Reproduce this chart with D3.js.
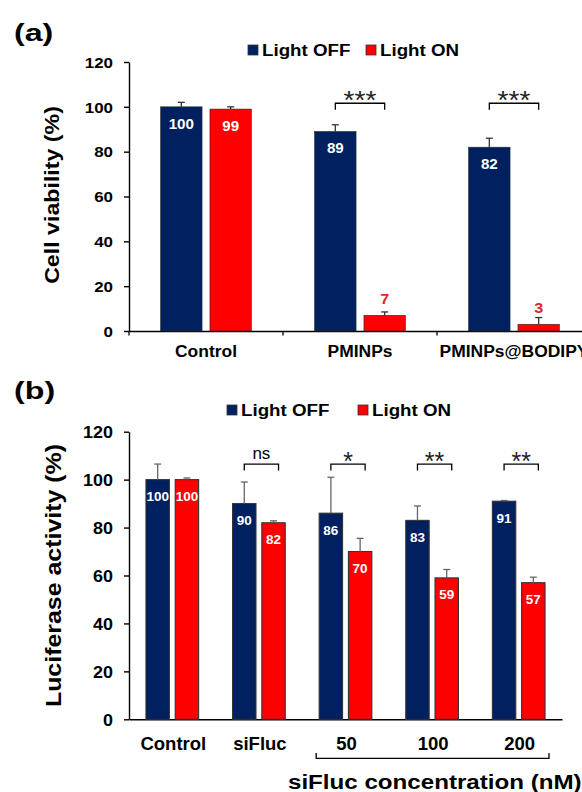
<!DOCTYPE html>
<html>
<head>
<meta charset="utf-8">
<script src="https://cdn.jsdelivr.net/npm/d3@7"></script>
<style>
  body { margin: 0; background: #fff; }
  svg { display: block; }
</style>
</head>
<body>
<svg id="chart" width="582" height="792"></svg>
<script>
// ---- data ----
const series = ['Light OFF', 'Light ON'];
const seriesColors = ['#002060', '#ff0000'];

// panel (a) - cell viability
const catsA = ['Control', 'PMINPs', 'PMINPs@BODIPY'];
const offA = [100, 89, 82];
const offErrA = [2, 3, 4];
const onA = [99, 7, 3];
const onErrA = [1, 1.5, 3];
const sigA = ['', '***', '***'];

// panel (b) - luciferase activity
const catsB = ['Control', 'siFluc', '50', '100', '200'];
const offB = [100, 90, 86, 83, 91];
const offErrB = [6.5, 9, 15, 6, 0.3];
const onB = [100, 82, 70, 59, 57];
const onErrB = [0.7, 0.8, 5.5, 3.5, 2.3];
const sigB = ['', 'ns', '*', '**', '**'];

const yTicks = [0, 20, 40, 60, 80, 100, 120];

const FONT = '"Liberation Sans", Arial, sans-serif';
const svg = d3.select('#chart');
svg.append('rect').attr('width', 582).attr('height', 792).attr('fill', '#fff');

// text helper: glyphs in the figure are a bit wider than Arial, so stretch along the text
function stext(g, x, y, str, size, sx, opt = {}) {
  const rot = opt.rotate ? ' rotate(-90)' : '';
  return g.append('text')
    .attr('transform', `translate(${x},${y})${rot} scale(${sx},1)`)
    .attr('text-anchor', opt.anchor || 'start')
    .attr('font-family', FONT)
    .attr('font-size', size)
    .attr('font-weight', opt.weight || 'bold')
    .attr('fill', opt.fill || '#000')
    .text(str);
}

function styleAxis(g, width) {
  g.select('.domain').attr('stroke', '#000').attr('stroke-width', width);
  g.selectAll('.tick line').attr('stroke', '#000').attr('stroke-width', width);
}

function legend(g, x, y, gap) {
  series.forEach((s, i) => {
    const lx = x + i * gap;
    g.append('rect').attr('x', lx).attr('y', y).attr('width', 10).attr('height', 10)
      .attr('fill', seriesColors[i]).attr('stroke', '#333').attr('stroke-width', 0.8);
    stext(g, lx + 14, y + 11, s, 16.3, 1.15);
  });
}

function panel(cfg) {
  const g = svg.append('g');
  const { x, y, sub } = cfg;

  // panel letter
  stext(g, 14, cfg.letterY, cfg.letter, 23, 1.4);
  legend(g, cfg.legendX, cfg.legendY, cfg.legendGap);

  // y axis
  const ax = g.append('g').attr('transform', `translate(${x.range()[0]},0)`)
    .call(d3.axisLeft(y).tickValues(yTicks).tickSize(5).tickSizeOuter(0));
  styleAxis(ax, 1.4);
  ax.selectAll('.tick text')
    .attr('x', null).attr('dy', null)
    .attr('transform', `translate(-16,${cfg.tickDy}) scale(${cfg.tickSx},1)`)
    .attr('font-family', FONT).attr('font-size', cfg.tickSize)
    .attr('font-weight', 'bold').attr('fill', '#000');

  // y title
  stext(g, cfg.titleX, (y.range()[0] + y.range()[1]) / 2 + cfg.titleShift, cfg.yTitle,
    cfg.titleSize, 1.16, { rotate: true, anchor: 'middle' });

  // x axis
  const bx = g.append('g').attr('transform', `translate(0,${y(0)})`)
    .call(d3.axisBottom(x).tickSize(0).tickSizeOuter(0));
  styleAxis(bx, 1.4);
  bx.selectAll('.tick text')
    .attr('y', null).attr('dy', null)
    .attr('transform', `translate(${cfg.catDx},${cfg.catDy}) scale(${cfg.catSx},1)`)
    .attr('font-family', FONT).attr('font-size', cfg.catSize)
    .attr('font-weight', 'bold').attr('fill', '#000');

  // bars
  const rows = [];
  x.domain().forEach((c, i) => {
    series.forEach((s, j) => {
      rows.push({ c, s, j, v: cfg.vals[j][i], e: cfg.errs[j][i] });
    });
  });

  const bars = g.append('g');
  bars.selectAll('rect').data(rows).enter().append('rect')
    .attr('x', d => x(d.c) + sub(d.s))
    .attr('y', d => y(d.v))
    .attr('width', sub.bandwidth())
    .attr('height', d => y(0) - y(d.v))
    .attr('fill', d => seriesColors[d.j])
    .attr('stroke', cfg.barStroke).attr('stroke-width', cfg.barStrokeW);

  // error bars (upper only)
  const eb = g.append('g').attr('stroke', cfg.errColor).attr('stroke-width', 1.3);
  rows.forEach(d => {
    const cx = x(d.c) + sub(d.s) + sub.bandwidth() / 2;
    eb.append('line').attr('x1', cx).attr('x2', cx).attr('y1', y(d.v)).attr('y2', y(d.v + d.e));
    eb.append('line').attr('x1', cx - 3.5).attr('x2', cx + 3.5).attr('y1', y(d.v + d.e)).attr('y2', y(d.v + d.e));
  });

  // value labels
  rows.forEach(d => {
    const cx = x(d.c) + sub(d.s) + sub.bandwidth() / 2;
    if (d.v >= 20) {
      stext(g, cx, y(d.v) + cfg.labelDy, d.v, cfg.labelSize, 1.08, { anchor: 'middle', fill: '#fff' });
    } else {
      stext(g, cx, y(d.v) - 11, d.v, cfg.labelSize + 1, 1.08, { anchor: 'middle', fill: '#d92b2b' });
    }
  });

  // significance brackets
  const br = g.append('g');
  x.domain().forEach((c, i) => {
    const s = cfg.sig[i];
    if (!s) return;
    const x1 = x(c) + sub(series[0]) + sub.bandwidth() / 2;
    const x2 = x(c) + sub(series[1]) + sub.bandwidth() / 2 + cfg.bracketExtra;
    const by = y(cfg.bracketAt);
    br.append('path')
      .attr('d', `M${x1},${by + 6.5}V${by}H${x2}V${by + 6.5}`)
      .attr('fill', 'none').attr('stroke', '#000').attr('stroke-width', 1.3);
    if (s === 'ns') {
      stext(br, (x1 + x2) / 2, by - 5, s, 17, 1.0, { anchor: 'middle', weight: 'normal' });
    } else {
      stext(br, (x1 + x2) / 2, by + cfg.starDy, s, cfg.starSize, cfg.starSx,
        { anchor: 'middle', weight: 'normal', fill: '#222' });
    }
  });
  return g;
}

// ---- panel (a) ----
const xA = d3.scaleBand().domain(catsA).range([129, 591]);
const sA = d3.scaleBand().domain(series).range([0, xA.bandwidth()]).paddingInner(0.16).paddingOuter(0.64);
const yA = d3.scaleLinear().domain([0, 120]).range([331, 62]);

const gA = panel({
  x: xA, y: yA, sub: sA, letter: '(a)', letterY: 40.5,
  legendX: 248, legendY: 45, legendGap: 118,
  tickDy: 5.3, tickSx: 1.13, tickSize: 15,
  yTitle: 'Cell viability (%)', titleX: 59, titleShift: -1.5, titleSize: 20,
  catDx: 0, catDy: 26, catSx: 1.04, catSize: 16.8,
  vals: [offA, onA], errs: [offErrA, onErrA],
  barStroke: '#2a2a2a', barStrokeW: 0.6, errColor: '#333',
  labelDy: 22, labelSize: 14,
  sig: sigA, bracketExtra: 0, bracketAt: 101.6, starDy: 6, starSize: 26, starSx: 1.08
});

// group boundary ticks on the (a) category axis
gA.append('g').selectAll('line')
  .data(catsA.map(c => xA(c)).concat([xA.range()[1]]))
  .enter().append('line')
  .attr('x1', d => d).attr('x2', d => d)
  .attr('y1', yA(0)).attr('y2', yA(0) + 4.5)
  .attr('stroke', '#000').attr('stroke-width', 1.3);

// ---- panel (b) ----
const xB = d3.scaleBand().domain(catsB).range([129, 562]);
const sB = d3.scaleBand().domain(series).range([0, xB.bandwidth()]).paddingInner(0.2).paddingOuter(0.58);
const yB = d3.scaleLinear().domain([0, 120]).range([719.3, 431.7]);

const gB = panel({
  x: xB, y: yB, sub: sB, letter: '(b)', letterY: 398.5,
  legendX: 227, legendY: 405, legendGap: 131,
  tickDy: 5.8, tickSx: 1.1, tickSize: 16.3,
  yTitle: 'Luciferase activity (%)', titleX: 60.5, titleShift: 0, titleSize: 21.5,
  catDx: 1, catDy: 30.4, catSx: 1.0, catSize: 18.5,
  vals: [offB, onB], errs: [offErrB, onErrB],
  barStroke: '#333', barStrokeW: 1.1, errColor: '#666',
  labelDy: 21.5, labelSize: 12.5,
  sig: sigB, bracketExtra: 5, bracketAt: 106.5, starDy: 6, starSize: 25, starSx: 1.0
});

// concentration bracket under 50-200 and its title
const bl = xB('50') + 14;
const brt = xB('200') + xB.bandwidth() - 13;
gB.append('path')
  .attr('d', `M${bl},753V758.3H${brt}V753`)
  .attr('fill', 'none').attr('stroke', '#000').attr('stroke-width', 1.3);
stext(gB, 288, 789, 'siFluc concentration (nM)', 21, 1.15);
</script>
</body>
</html>
